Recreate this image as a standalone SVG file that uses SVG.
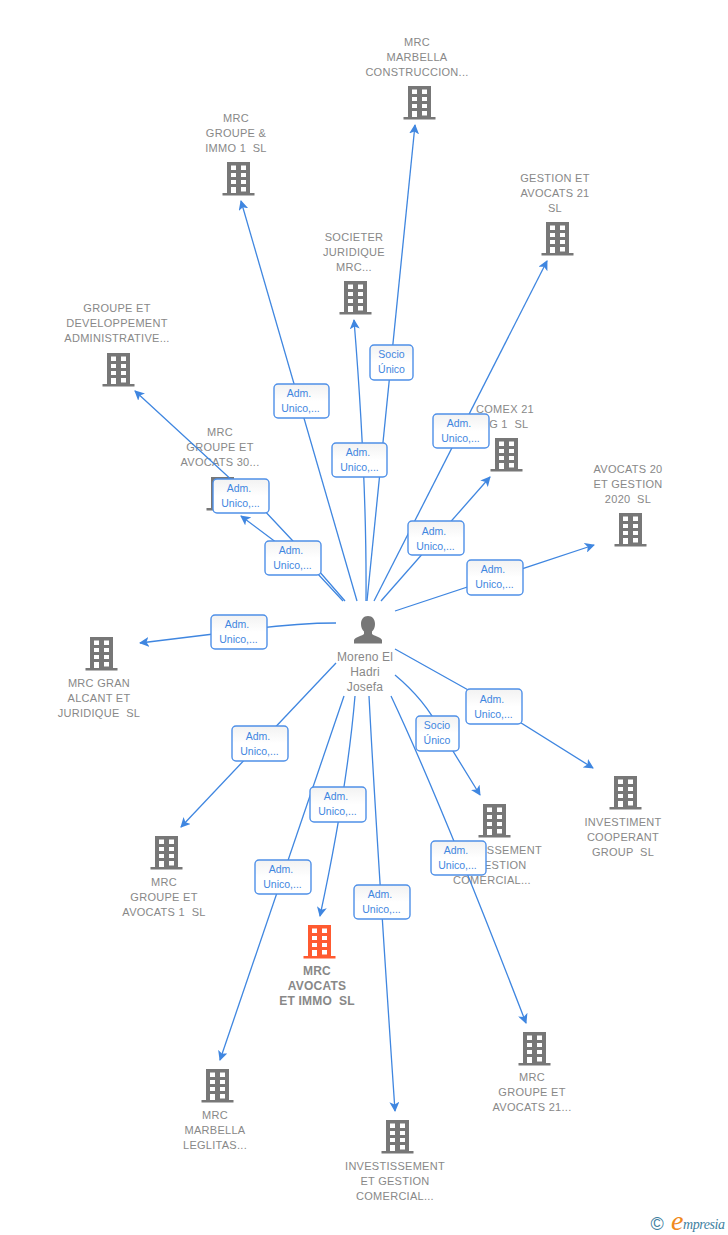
<svg xmlns="http://www.w3.org/2000/svg" width="728" height="1235" viewBox="0 0 728 1235">
<style>
.n{font:11px "Liberation Sans",Arial,sans-serif;fill:#888;text-anchor:middle;letter-spacing:.28px;white-space:pre}
.o{font-weight:bold;font-size:12px;letter-spacing:.2px}
.p{font-size:12px;letter-spacing:.15px}
.e{fill:none;stroke:#3f86e0;stroke-width:1.3;marker-end:url(#a)}
.b{fill:url(#g);stroke:#4f90e8;stroke-width:1.4}
.t{font:10.5px "Liberation Sans",Arial,sans-serif;fill:#3f86e0;text-anchor:middle}
</style>
<defs>
<linearGradient id="g" x1="0" y1="0" x2="0" y2="1"><stop offset="0" stop-color="#f2f2f2"/><stop offset=".5" stop-color="#fff"/></linearGradient>
<marker id="a" viewBox="0 0 10 10" refX="9" refY="5" markerUnits="userSpaceOnUse" markerWidth="10" markerHeight="10" orient="auto"><path d="M0 0L10 5L0 10L2.500 5Z" fill="#3f86e0"/></marker>
<symbol id="bd" viewBox="0 0 32 34" width="32" height="34" overflow="visible"><path fill-rule="evenodd" d="M4.500 0H27.500V31H32V33.500H0V31H4.500ZM8.500 3.500V8H13.500V3.500ZM18.500 3.500V8H23.500V3.500ZM8.500 11V15H13.500V11ZM18.500 11V15H23.500V11ZM8.500 18V22H13.500V18ZM18.500 18V22H23.500V18ZM8.500 25V31H13.500V25ZM18.500 25V29.500H23.500V25Z"/></symbol>
</defs>
<g id="n-constr" fill="#777"><use href="#bd" x="403.500" y="86"/><text class="n"><tspan x="417" y="46">MRC</tspan><tspan x="417" y="61">MARBELLA</tspan><tspan x="417" y="76">CONSTRUCCION...</tspan></text></g>
<g id="n-immo1" fill="#777"><use href="#bd" x="222.500" y="162"/><text class="n"><tspan x="236" y="122">MRC</tspan><tspan x="236" y="137">GROUPE &amp;</tspan><tspan x="236" y="152">IMMO 1  SL</tspan></text></g>
<g id="n-gestion21" fill="#777"><use href="#bd" x="541.500" y="222"/><text class="n"><tspan x="555" y="182">GESTION ET</tspan><tspan x="555" y="197">AVOCATS 21</tspan><tspan x="555" y="212">SL</tspan></text></g>
<g id="n-societer" fill="#777"><use href="#bd" x="339.500" y="281"/><text class="n"><tspan x="354" y="241">SOCIETER</tspan><tspan x="354" y="256">JURIDIQUE</tspan><tspan x="354" y="271">MRC...</tspan></text></g>
<g id="n-dev" fill="#777"><use href="#bd" x="102.500" y="353"/><text class="n"><tspan x="117" y="312">GROUPE ET</tspan><tspan x="117" y="327">DEVELOPPEMENT</tspan><tspan x="117" y="342">ADMINISTRATIVE...</tspan></text></g>
<g id="n-comex" fill="#777"><use href="#bd" x="490.500" y="438"/><text class="n"><tspan x="505" y="413">COMEX 21</tspan><tspan x="505" y="428">AG 1  SL</tspan></text></g>
<g id="n-av30" fill="#777"><use href="#bd" x="206.500" y="477"/><text class="n"><tspan x="220" y="436">MRC</tspan><tspan x="220" y="451">GROUPE ET</tspan><tspan x="220" y="466">AVOCATS 30...</tspan></text></g>
<g id="n-av20" fill="#777"><use href="#bd" x="614.500" y="513"/><text class="n"><tspan x="628" y="473">AVOCATS 20</tspan><tspan x="628" y="488">ET GESTION</tspan><tspan x="628" y="503">2020  SL</tspan></text></g>
<g id="n-alcant" fill="#777"><use href="#bd" x="85.500" y="637"/><text class="n"><tspan x="99" y="687">MRC GRAN</tspan><tspan x="99" y="702">ALCANT ET</tspan><tspan x="99" y="717">JURIDIQUE  SL</tspan></text></g>
<g id="n-cooperant" fill="#777"><use href="#bd" x="609.500" y="776"/><text class="n"><tspan x="623" y="826">INVESTIMENT</tspan><tspan x="623" y="841">COOPERANT</tspan><tspan x="623" y="856">GROUP  SL</tspan></text></g>
<g id="n-invg" fill="#777"><use href="#bd" x="478.500" y="804"/><text class="n"><tspan x="492" y="854">INVESTISSEMENT</tspan><tspan x="492" y="869">ET GESTION</tspan><tspan x="492" y="884">COMERCIAL...</tspan></text></g>
<g id="n-g1" fill="#777"><use href="#bd" x="150.500" y="836"/><text class="n"><tspan x="164" y="886">MRC</tspan><tspan x="164" y="901">GROUPE ET</tspan><tspan x="164" y="916">AVOCATS 1  SL</tspan></text></g>
<g id="n-main" fill="#ff5a30"><use href="#bd" x="303.500" y="925"/><text class="n o"><tspan x="317" y="975">MRC</tspan><tspan x="317" y="990">AVOCATS</tspan><tspan x="317" y="1005">ET IMMO  SL</tspan></text></g>
<g id="n-leg" fill="#777"><use href="#bd" x="201.500" y="1069"/><text class="n"><tspan x="215" y="1119">MRC</tspan><tspan x="215" y="1134">MARBELLA</tspan><tspan x="215" y="1149">LEGLITAS...</tspan></text></g>
<g id="n-g21" fill="#777"><use href="#bd" x="518.500" y="1032"/><text class="n"><tspan x="532" y="1081">MRC</tspan><tspan x="532" y="1096">GROUPE ET</tspan><tspan x="532" y="1111">AVOCATS 21...</tspan></text></g>
<g id="n-inv" fill="#777"><use href="#bd" x="381.500" y="1120"/><text class="n"><tspan x="395" y="1170">INVESTISSEMENT</tspan><tspan x="395" y="1185">ET GESTION</tspan><tspan x="395" y="1200">COMERCIAL...</tspan></text></g>
<g id="n-person"><path fill="#777" d="M368 616c4.500 0 7 3.500 7 8 0 3-1 5.500-3 7.500v2.500c1 1.500 9 3 10 6v3.500H354V640c1-3 9-4.500 10-6v-2.500c-2-2-3-4.500-3-7.500 0-4.500 2.500-8 7-8Z"/><text class="n p"><tspan x="365" y="661">Moreno El</tspan><tspan x="365" y="676">Hadri</tspan><tspan x="365" y="691">Josefa</tspan></text></g>
<g id="connectors">
<path class="e" d="M367 601L415 125"/>
<path class="e" d="M357 601L241 201"/>
<path class="e" d="M374 601L547 261"/>
<path class="e" d="M366 601Q367 480 354 320"/>
<path class="e" d="M381 601L490 477"/>
<path class="e" d="M395 611L594 545"/>
<path class="e" d="M345 601L292 540L262 508L135 391"/>
<path class="e" d="M343 601L317 573L241 516"/>
<path class="e" d="M336 623Q290 623 230 632L140 643"/>
<path class="e" d="M336 663L181 827"/>
<path class="e" d="M355 696Q347 790 320 916"/>
<path class="e" d="M344 696L220 1060"/>
<path class="e" d="M369 696Q376 830 395 1111"/>
<path class="e" d="M391 696Q440 800 526 1023"/>
<path class="e" d="M395 675Q425 700 440 730L480 795"/>
<path class="e" d="M395 649L470 691L593 768"/>
<g id="l1"><rect class="b" x="370" y="345" width="43" height="35" rx="4"/><text class="t"><tspan x="391.500" y="358">Socio</tspan><tspan x="391.500" y="373">Único</tspan></text></g>
<g id="l2"><rect class="b" x="274" y="384" width="55" height="34" rx="4"/><text class="t"><tspan x="299" y="397">Adm.</tspan><tspan x="300.500" y="412">Unico,...</tspan></text></g>
<g id="l3"><rect class="b" x="433" y="414" width="56" height="34" rx="4"/><text class="t"><tspan x="459" y="427">Adm.</tspan><tspan x="460.500" y="442">Unico,...</tspan></text></g>
<g id="l4"><rect class="b" x="332" y="443" width="55" height="34" rx="4"/><text class="t"><tspan x="358" y="456">Adm.</tspan><tspan x="359.500" y="471">Unico,...</tspan></text></g>
<g id="l5"><rect class="b" x="213" y="479" width="56" height="34" rx="4"/><text class="t"><tspan x="239" y="492">Adm.</tspan><tspan x="240.500" y="507">Unico,...</tspan></text></g>
<g id="l6"><rect class="b" x="408" y="521" width="56" height="34" rx="4"/><text class="t"><tspan x="434" y="535">Adm.</tspan><tspan x="435.500" y="550">Unico,...</tspan></text></g>
<g id="l7"><rect class="b" x="265" y="541" width="56" height="34" rx="4"/><text class="t"><tspan x="291" y="554">Adm.</tspan><tspan x="292.500" y="569">Unico,...</tspan></text></g>
<g id="l8"><rect class="b" x="467" y="560" width="56" height="35" rx="4"/><text class="t"><tspan x="493" y="573">Adm.</tspan><tspan x="494.500" y="588">Unico,...</tspan></text></g>
<g id="l9"><rect class="b" x="211" y="615" width="56" height="34" rx="4"/><text class="t"><tspan x="237" y="628">Adm.</tspan><tspan x="238.500" y="643">Unico,...</tspan></text></g>
<g id="l10"><rect class="b" x="466" y="689" width="56" height="35" rx="4"/><text class="t"><tspan x="492" y="703">Adm.</tspan><tspan x="493.500" y="718">Unico,...</tspan></text></g>
<g id="l11"><rect class="b" x="416" y="716" width="43" height="35" rx="4"/><text class="t"><tspan x="437" y="729">Socio</tspan><tspan x="437" y="744">Único</tspan></text></g>
<g id="l12"><rect class="b" x="232" y="726" width="56" height="35" rx="4"/><text class="t"><tspan x="258" y="740">Adm.</tspan><tspan x="259.500" y="755">Unico,...</tspan></text></g>
<g id="l13"><rect class="b" x="310" y="787" width="56" height="35" rx="4"/><text class="t"><tspan x="336" y="800">Adm.</tspan><tspan x="337.500" y="815">Unico,...</tspan></text></g>
<g id="l14"><rect class="b" x="431" y="841" width="55" height="34" rx="4"/><text class="t"><tspan x="456" y="854">Adm.</tspan><tspan x="457.500" y="869">Unico,...</tspan></text></g>
<g id="l15"><rect class="b" x="255" y="860" width="56" height="34" rx="4"/><text class="t"><tspan x="281" y="873">Adm.</tspan><tspan x="282.500" y="888">Unico,...</tspan></text></g>
<g id="l16"><rect class="b" x="354" y="885" width="56" height="34" rx="4"/><text class="t"><tspan x="380" y="898">Adm.</tspan><tspan x="381.500" y="913">Unico,...</tspan></text></g>
</g>
<g id="logo"><text x="650.500" y="1230" font-family="'Liberation Sans',sans-serif" font-size="18" fill="#3f7f9f">©</text><text x="671" y="1230" font-family="'Liberation Serif',serif" font-style="italic" font-size="28" fill="#f08a1d">e</text><text x="683" y="1229" font-family="'Liberation Serif',serif" font-style="italic" font-size="14" textLength="42" fill="#3f7f9f">mpresia</text></g>
</svg>
